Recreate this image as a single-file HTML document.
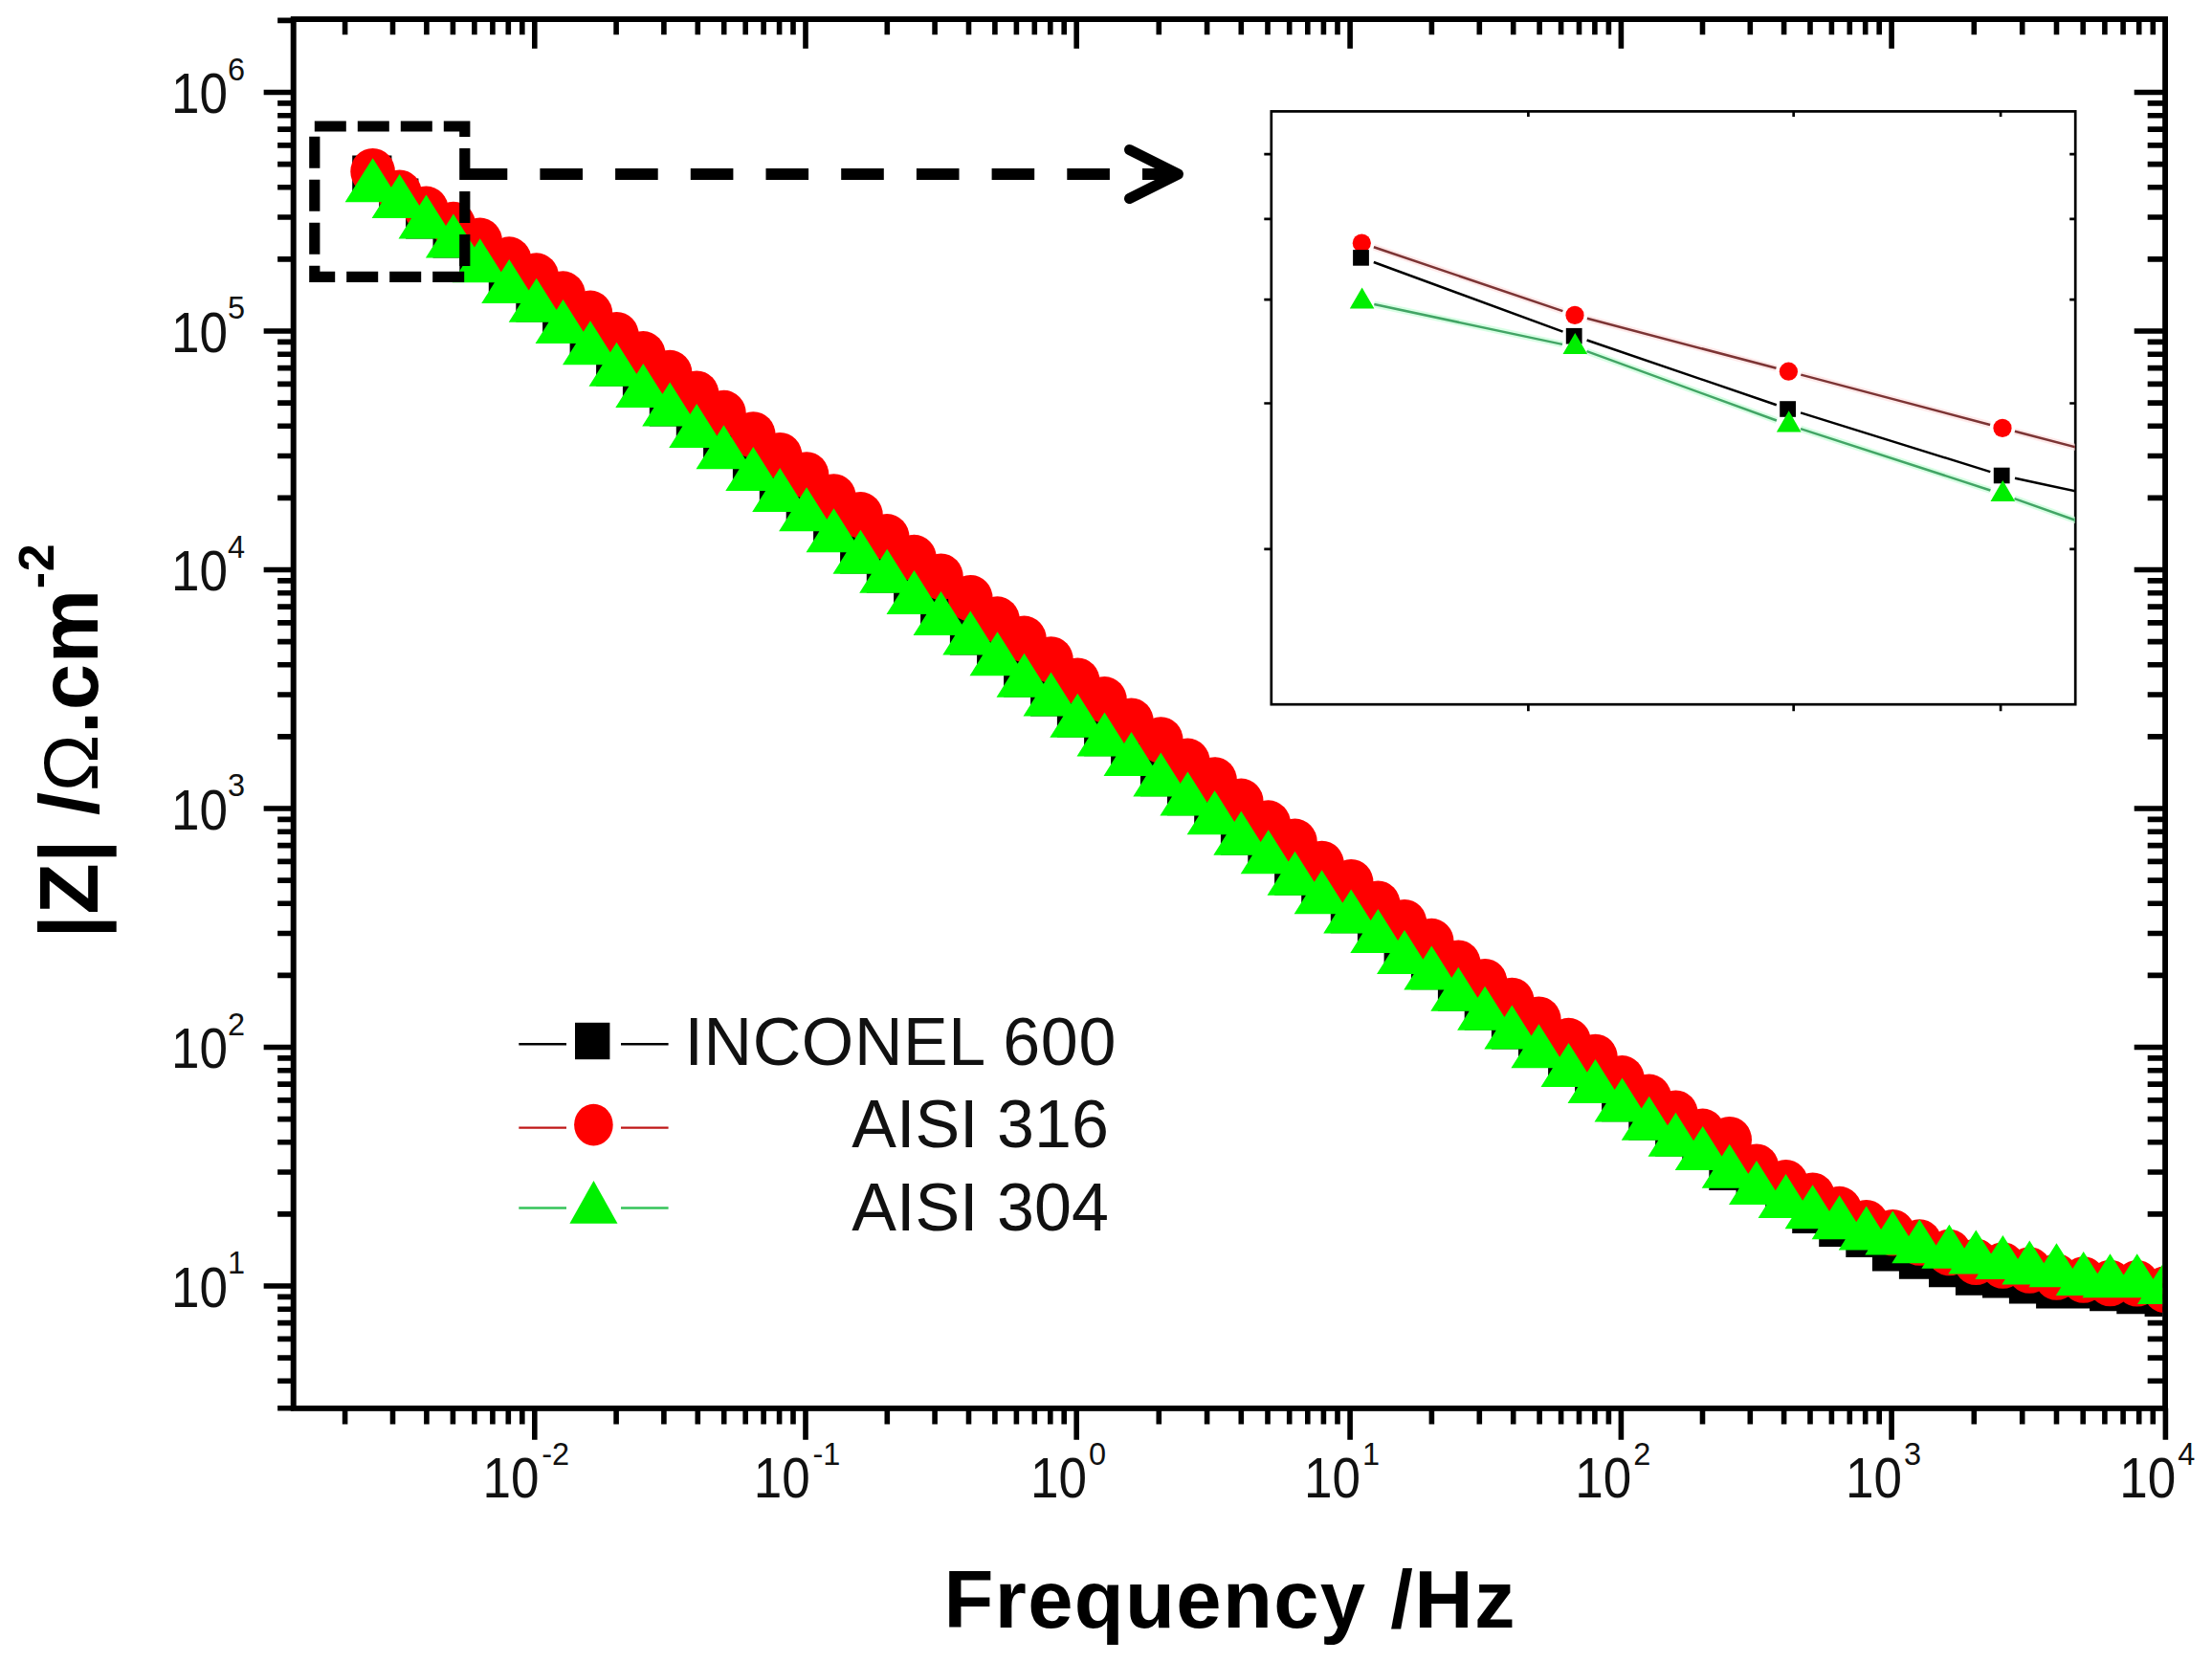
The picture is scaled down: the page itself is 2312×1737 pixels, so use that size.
<!DOCTYPE html><html><head><meta charset="utf-8"><title>Bode plot</title><style>html,body{margin:0;padding:0;background:#fff}svg{display:block}</style></head><body><svg width="2312" height="1737" viewBox="0 0 2312 1737">
<rect width="2312" height="1737" fill="#fff"/>
<defs><clipPath id="cp"><rect x="306.65" y="20.15" width="1953.7499999999998" height="1451.6499999999999"/></clipPath><clipPath id="ci"><rect x="1329" y="116.5" width="840" height="619.5"/></clipPath></defs>
<g stroke="#000" stroke-width="5.6" fill="none" stroke-linecap="butt">
<rect x="306.65" y="20.15" width="1956.5499999999997" height="1451.6499999999999"/>
<path d="M360.6 20.15v16.0M360.6 1471.8v16.7M410.5 20.15v16.0M410.5 1471.8v16.7M445.9 20.15v16.0M445.9 1471.8v16.7M473.4 20.15v16.0M473.4 1471.8v16.7M495.9 20.15v16.0M495.9 1471.8v16.7M514.9 20.15v16.0M514.9 1471.8v16.7M531.3 20.15v16.0M531.3 1471.8v16.7M545.8 20.15v16.0M545.8 1471.8v16.7M558.8 20.15v30.6M558.8 1471.8v33.0M644.1 20.15v16.0M644.1 1471.8v16.7M693.9 20.15v16.0M693.9 1471.8v16.7M729.3 20.15v16.0M729.3 1471.8v16.7M756.7 20.15v16.0M756.7 1471.8v16.7M779.2 20.15v16.0M779.2 1471.8v16.7M798.1 20.15v16.0M798.1 1471.8v16.7M814.6 20.15v16.0M814.6 1471.8v16.7M829.0 20.15v16.0M829.0 1471.8v16.7M842.0 20.15v30.6M842.0 1471.8v33.0M927.3 20.15v16.0M927.3 1471.8v16.7M977.1 20.15v16.0M977.1 1471.8v16.7M1012.5 20.15v16.0M1012.5 1471.8v16.7M1039.9 20.15v16.0M1039.9 1471.8v16.7M1062.4 20.15v16.0M1062.4 1471.8v16.7M1081.3 20.15v16.0M1081.3 1471.8v16.7M1097.8 20.15v16.0M1097.8 1471.8v16.7M1112.2 20.15v16.0M1112.2 1471.8v16.7M1125.2 20.15v30.6M1125.2 1471.8v33.0M1211.3 20.15v16.0M1211.3 1471.8v16.7M1261.6 20.15v16.0M1261.6 1471.8v16.7M1297.3 20.15v16.0M1297.3 1471.8v16.7M1325.0 20.15v16.0M1325.0 1471.8v16.7M1347.7 20.15v16.0M1347.7 1471.8v16.7M1366.8 20.15v16.0M1366.8 1471.8v16.7M1383.4 20.15v16.0M1383.4 1471.8v16.7M1398.0 20.15v16.0M1398.0 1471.8v16.7M1411.1 20.15v30.6M1411.1 1471.8v33.0M1496.4 20.15v16.0M1496.4 1471.8v16.7M1546.3 20.15v16.0M1546.3 1471.8v16.7M1581.7 20.15v16.0M1581.7 1471.8v16.7M1609.1 20.15v16.0M1609.1 1471.8v16.7M1631.6 20.15v16.0M1631.6 1471.8v16.7M1650.5 20.15v16.0M1650.5 1471.8v16.7M1666.9 20.15v16.0M1666.9 1471.8v16.7M1681.4 20.15v16.0M1681.4 1471.8v16.7M1694.4 20.15v30.6M1694.4 1471.8v33.0M1779.5 20.15v16.0M1779.5 1471.8v16.7M1829.3 20.15v16.0M1829.3 1471.8v16.7M1864.6 20.15v16.0M1864.6 1471.8v16.7M1892.0 20.15v16.0M1892.0 1471.8v16.7M1914.4 20.15v16.0M1914.4 1471.8v16.7M1933.3 20.15v16.0M1933.3 1471.8v16.7M1949.7 20.15v16.0M1949.7 1471.8v16.7M1964.2 20.15v16.0M1964.2 1471.8v16.7M1977.1 20.15v30.6M1977.1 1471.8v33.0M2063.3 20.15v16.0M2063.3 1471.8v16.7M2113.7 20.15v16.0M2113.7 1471.8v16.7M2149.5 20.15v16.0M2149.5 1471.8v16.7M2177.2 20.15v16.0M2177.2 1471.8v16.7M2199.9 20.15v16.0M2199.9 1471.8v16.7M2219.1 20.15v16.0M2219.1 1471.8v16.7M2235.7 20.15v16.0M2235.7 1471.8v16.7M2250.3 20.15v16.0M2250.3 1471.8v16.7M2263.4 1471.8v33.0"/>
<path d="M306.65 1471.8h-16.5M306.65 1443.3h-16.5M2263.2 1443.3h-18.5M306.65 1419.1h-16.5M2263.2 1419.1h-18.5M306.65 1399.4h-16.5M2263.2 1399.4h-18.5M306.65 1382.6h-16.5M2263.2 1382.6h-18.5M306.65 1368.2h-16.5M2263.2 1368.2h-18.5M306.65 1355.4h-16.5M2263.2 1355.4h-18.5M306.65 1344.0h-31.0M2263.2 1344.0h-32.5M306.65 1268.9h-16.5M2263.2 1268.9h-18.5M306.65 1225.0h-16.5M2263.2 1225.0h-18.5M306.65 1193.8h-16.5M2263.2 1193.8h-18.5M306.65 1169.6h-16.5M2263.2 1169.6h-18.5M306.65 1149.9h-16.5M2263.2 1149.9h-18.5M306.65 1133.1h-16.5M2263.2 1133.1h-18.5M306.65 1118.7h-16.5M2263.2 1118.7h-18.5M306.65 1105.9h-16.5M2263.2 1105.9h-18.5M306.65 1094.5h-31.0M2263.2 1094.5h-32.5M306.65 1019.4h-16.5M2263.2 1019.4h-18.5M306.65 975.5h-16.5M2263.2 975.5h-18.5M306.65 944.3h-16.5M2263.2 944.3h-18.5M306.65 920.1h-16.5M2263.2 920.1h-18.5M306.65 900.4h-16.5M2263.2 900.4h-18.5M306.65 883.6h-16.5M2263.2 883.6h-18.5M306.65 869.2h-16.5M2263.2 869.2h-18.5M306.65 856.4h-16.5M2263.2 856.4h-18.5M306.65 845.0h-31.0M2263.2 845.0h-32.5M306.65 769.9h-16.5M2263.2 769.9h-18.5M306.65 726.0h-16.5M2263.2 726.0h-18.5M306.65 694.8h-16.5M2263.2 694.8h-18.5M306.65 670.6h-16.5M2263.2 670.6h-18.5M306.65 650.9h-16.5M2263.2 650.9h-18.5M306.65 634.1h-16.5M2263.2 634.1h-18.5M306.65 619.7h-16.5M2263.2 619.7h-18.5M306.65 606.9h-16.5M2263.2 606.9h-18.5M306.65 595.5h-31.0M2263.2 595.5h-32.5M306.65 520.4h-16.5M2263.2 520.4h-18.5M306.65 476.5h-16.5M2263.2 476.5h-18.5M306.65 445.3h-16.5M2263.2 445.3h-18.5M306.65 421.1h-16.5M2263.2 421.1h-18.5M306.65 401.4h-16.5M2263.2 401.4h-18.5M306.65 384.6h-16.5M2263.2 384.6h-18.5M306.65 370.2h-16.5M2263.2 370.2h-18.5M306.65 357.4h-16.5M2263.2 357.4h-18.5M306.65 346.0h-31.0M2263.2 346.0h-32.5M306.65 270.9h-16.5M2263.2 270.9h-18.5M306.65 227.0h-16.5M2263.2 227.0h-18.5M306.65 195.8h-16.5M2263.2 195.8h-18.5M306.65 171.6h-16.5M2263.2 171.6h-18.5M306.65 151.9h-16.5M2263.2 151.9h-18.5M306.65 135.1h-16.5M2263.2 135.1h-18.5M306.65 120.7h-16.5M2263.2 120.7h-18.5M306.65 107.9h-16.5M2263.2 107.9h-18.5M306.65 96.5h-31.0M2263.2 96.5h-32.5M306.65 21.4h-16.5"/>
</g>
<g clip-path="url(#cp)">
<polyline points="389.6,183.1 417.6,207.1 445.5,228.8 473.9,248.8 501.7,274.5 532.2,296.2 560.7,315.9 588.5,338.3 617.0,360.5 644.5,382.9 672.3,405.2 700.2,424.8 728.2,447.2 756.5,469.5 787.3,492.2 815.2,514.2 843.1,534.5 871.5,556.4 899.5,578.9 927.2,598.9 955.5,621.2 983.5,643.3 1014.3,663.8 1042.5,685.5 1070.5,707.9 1098.5,727.8 1126.3,750.0 1154.5,769.7 1182.5,790.2 1213.3,811.7 1241.4,831.6 1269.6,851.4 1297.3,872.9 1325.7,892.4 1353.5,914.9 1381.6,934.4 1412.2,954.7 1440.3,975.2 1468.0,997.2 1496.3,1013.7 1524.3,1036.0 1552.1,1056.0 1580.3,1075.8 1608.4,1095.5 1639.5,1115.2 1667.5,1132.2 1695.5,1151.6 1723.7,1171.0 1751.5,1187.9 1779.7,1202.2 1807.7,1223.5 1836.0,1236.5 1866.6,1250.5 1894.6,1268.5 1922.6,1282.4 1950.7,1293.3 1978.3,1307.8 2006.3,1316.2 2037.4,1324.7 2065.3,1333.1 2093.4,1336.0 2121.3,1341.8 2149.5,1346.8 2177.7,1347.0 2205.5,1349.7 2233.7,1352.6 2263.0,1355.5" fill="none" stroke="#000" stroke-width="2.5"/>
<path d="M368.2 162.5h41.2v41.2h-41.2zM396.2 186.5h41.2v41.2h-41.2zM424.1 208.2h41.2v41.2h-41.2zM452.5 228.2h41.2v41.2h-41.2zM480.3 253.9h41.2v41.2h-41.2zM510.8 275.6h41.2v41.2h-41.2zM539.3 295.3h41.2v41.2h-41.2zM567.1 317.7h41.2v41.2h-41.2zM595.6 339.9h41.2v41.2h-41.2zM623.1 362.3h41.2v41.2h-41.2zM650.9 384.6h41.2v41.2h-41.2zM678.8 404.2h41.2v41.2h-41.2zM706.8 426.6h41.2v41.2h-41.2zM735.1 448.9h41.2v41.2h-41.2zM765.9 471.6h41.2v41.2h-41.2zM793.8 493.6h41.2v41.2h-41.2zM821.7 513.9h41.2v41.2h-41.2zM850.1 535.8h41.2v41.2h-41.2zM878.1 558.3h41.2v41.2h-41.2zM905.8 578.3h41.2v41.2h-41.2zM934.1 600.6h41.2v41.2h-41.2zM962.1 622.7h41.2v41.2h-41.2zM992.9 643.2h41.2v41.2h-41.2zM1021.1 664.9h41.2v41.2h-41.2zM1049.1 687.3h41.2v41.2h-41.2zM1077.1 707.2h41.2v41.2h-41.2zM1104.9 729.4h41.2v41.2h-41.2zM1133.1 749.1h41.2v41.2h-41.2zM1161.1 769.6h41.2v41.2h-41.2zM1191.9 791.1h41.2v41.2h-41.2zM1220.0 811.0h41.2v41.2h-41.2zM1248.2 830.8h41.2v41.2h-41.2zM1275.9 852.3h41.2v41.2h-41.2zM1304.3 871.8h41.2v41.2h-41.2zM1332.1 894.3h41.2v41.2h-41.2zM1360.2 913.8h41.2v41.2h-41.2zM1390.8 934.1h41.2v41.2h-41.2zM1418.9 954.6h41.2v41.2h-41.2zM1446.6 976.6h41.2v41.2h-41.2zM1474.9 993.1h41.2v41.2h-41.2zM1502.9 1015.4h41.2v41.2h-41.2zM1530.7 1035.4h41.2v41.2h-41.2zM1558.9 1055.2h41.2v41.2h-41.2zM1587.0 1074.9h41.2v41.2h-41.2zM1618.1 1094.6h41.2v41.2h-41.2zM1646.1 1111.6h41.2v41.2h-41.2zM1674.1 1131.0h41.2v41.2h-41.2zM1702.3 1150.4h41.2v41.2h-41.2zM1730.1 1167.3h41.2v41.2h-41.2zM1758.3 1181.6h41.2v41.2h-41.2zM1786.3 1202.9h41.2v41.2h-41.2zM1814.6 1215.9h41.2v41.2h-41.2zM1845.2 1229.9h41.2v41.2h-41.2zM1873.2 1247.9h41.2v41.2h-41.2zM1901.2 1261.8h41.2v41.2h-41.2zM1929.3 1272.7h41.2v41.2h-41.2zM1956.9 1287.2h41.2v41.2h-41.2zM1984.9 1295.6h41.2v41.2h-41.2zM2016.0 1304.1h41.2v41.2h-41.2zM2043.9 1312.5h41.2v41.2h-41.2zM2072.0 1315.4h41.2v41.2h-41.2zM2099.9 1321.2h41.2v41.2h-41.2zM2128.1 1326.2h41.2v41.2h-41.2zM2156.3 1326.4h41.2v41.2h-41.2zM2184.1 1329.1h41.2v41.2h-41.2zM2212.3 1332.0h41.2v41.2h-41.2zM2241.6 1334.9h41.2v41.2h-41.2z" fill="#000"/>
<polyline points="389.6,179.2 417.6,201.8 445.5,218.9 473.9,235.0 501.7,251.9 532.2,271.6 560.7,288.6 588.5,307.6 617.0,327.9 644.5,350.3 672.3,370.4 700.2,390.1 728.2,411.8 756.5,432.1 787.3,454.5 815.2,476.2 843.1,496.5 871.5,519.5 899.5,538.4 927.2,561.4 955.5,583.1 983.5,602.8 1014.3,625.2 1042.5,647.6 1070.5,667.9 1098.5,689.5 1126.3,711.8 1154.5,731.4 1182.5,753.8 1213.3,773.5 1241.4,795.9 1269.6,815.5 1297.3,837.9 1325.7,860.6 1353.5,879.9 1381.6,903.0 1412.2,922.2 1440.3,944.7 1468.0,964.3 1496.3,984.1 1524.3,1006.7 1552.1,1026.3 1580.3,1046.0 1608.4,1065.7 1639.5,1088.1 1667.5,1105.0 1695.5,1127.4 1723.7,1146.9 1751.5,1163.8 1779.7,1182.9 1807.7,1191.2 1836.0,1219.7 1866.6,1236.3 1894.6,1249.8 1922.6,1264.1 1950.7,1278.3 1978.3,1288.2 2006.3,1298.5 2037.4,1309.0 2065.3,1318.8 2093.4,1322.5 2121.3,1327.5 2149.5,1334.5 2177.7,1337.5 2205.5,1341.0 2233.7,1341.3 2263.0,1347.8" fill="none" stroke="#f00" stroke-width="2.5"/>
<g fill="#ff0000"><ellipse cx="389.6" cy="179.2" rx="23.3" ry="24.3"/><ellipse cx="417.6" cy="201.8" rx="23.3" ry="24.3"/><ellipse cx="445.5" cy="218.9" rx="23.3" ry="24.3"/><ellipse cx="473.9" cy="235.0" rx="23.3" ry="24.3"/><ellipse cx="501.7" cy="251.9" rx="23.3" ry="24.3"/><ellipse cx="532.2" cy="271.6" rx="23.3" ry="24.3"/><ellipse cx="560.7" cy="288.6" rx="23.3" ry="24.3"/><ellipse cx="588.5" cy="307.6" rx="23.3" ry="24.3"/><ellipse cx="617.0" cy="327.9" rx="23.3" ry="24.3"/><ellipse cx="644.5" cy="350.3" rx="23.3" ry="24.3"/><ellipse cx="672.3" cy="370.4" rx="23.3" ry="24.3"/><ellipse cx="700.2" cy="390.1" rx="23.3" ry="24.3"/><ellipse cx="728.2" cy="411.8" rx="23.3" ry="24.3"/><ellipse cx="756.5" cy="432.1" rx="23.3" ry="24.3"/><ellipse cx="787.3" cy="454.5" rx="23.3" ry="24.3"/><ellipse cx="815.2" cy="476.2" rx="23.3" ry="24.3"/><ellipse cx="843.1" cy="496.5" rx="23.3" ry="24.3"/><ellipse cx="871.5" cy="519.5" rx="23.3" ry="24.3"/><ellipse cx="899.5" cy="538.4" rx="23.3" ry="24.3"/><ellipse cx="927.2" cy="561.4" rx="23.3" ry="24.3"/><ellipse cx="955.5" cy="583.1" rx="23.3" ry="24.3"/><ellipse cx="983.5" cy="602.8" rx="23.3" ry="24.3"/><ellipse cx="1014.3" cy="625.2" rx="23.3" ry="24.3"/><ellipse cx="1042.5" cy="647.6" rx="23.3" ry="24.3"/><ellipse cx="1070.5" cy="667.9" rx="23.3" ry="24.3"/><ellipse cx="1098.5" cy="689.5" rx="23.3" ry="24.3"/><ellipse cx="1126.3" cy="711.8" rx="23.3" ry="24.3"/><ellipse cx="1154.5" cy="731.4" rx="23.3" ry="24.3"/><ellipse cx="1182.5" cy="753.8" rx="23.3" ry="24.3"/><ellipse cx="1213.3" cy="773.5" rx="23.3" ry="24.3"/><ellipse cx="1241.4" cy="795.9" rx="23.3" ry="24.3"/><ellipse cx="1269.6" cy="815.5" rx="23.3" ry="24.3"/><ellipse cx="1297.3" cy="837.9" rx="23.3" ry="24.3"/><ellipse cx="1325.7" cy="860.6" rx="23.3" ry="24.3"/><ellipse cx="1353.5" cy="879.9" rx="23.3" ry="24.3"/><ellipse cx="1381.6" cy="903.0" rx="23.3" ry="24.3"/><ellipse cx="1412.2" cy="922.2" rx="23.3" ry="24.3"/><ellipse cx="1440.3" cy="944.7" rx="23.3" ry="24.3"/><ellipse cx="1468.0" cy="964.3" rx="23.3" ry="24.3"/><ellipse cx="1496.3" cy="984.1" rx="23.3" ry="24.3"/><ellipse cx="1524.3" cy="1006.7" rx="23.3" ry="24.3"/><ellipse cx="1552.1" cy="1026.3" rx="23.3" ry="24.3"/><ellipse cx="1580.3" cy="1046.0" rx="23.3" ry="24.3"/><ellipse cx="1608.4" cy="1065.7" rx="23.3" ry="24.3"/><ellipse cx="1639.5" cy="1088.1" rx="23.3" ry="24.3"/><ellipse cx="1667.5" cy="1105.0" rx="23.3" ry="24.3"/><ellipse cx="1695.5" cy="1127.4" rx="23.3" ry="24.3"/><ellipse cx="1723.7" cy="1146.9" rx="23.3" ry="24.3"/><ellipse cx="1751.5" cy="1163.8" rx="23.3" ry="24.3"/><ellipse cx="1779.7" cy="1182.9" rx="23.3" ry="24.3"/><ellipse cx="1807.7" cy="1191.2" rx="23.3" ry="24.3"/><ellipse cx="1836.0" cy="1219.7" rx="23.3" ry="24.3"/><ellipse cx="1866.6" cy="1236.3" rx="23.3" ry="24.3"/><ellipse cx="1894.6" cy="1249.8" rx="23.3" ry="24.3"/><ellipse cx="1922.6" cy="1264.1" rx="23.3" ry="24.3"/><ellipse cx="1950.7" cy="1278.3" rx="23.3" ry="24.3"/><ellipse cx="1978.3" cy="1288.2" rx="23.3" ry="24.3"/><ellipse cx="2006.3" cy="1298.5" rx="23.3" ry="24.3"/><ellipse cx="2037.4" cy="1309.0" rx="23.3" ry="24.3"/><ellipse cx="2065.3" cy="1318.8" rx="23.3" ry="24.3"/><ellipse cx="2093.4" cy="1322.5" rx="23.3" ry="24.3"/><ellipse cx="2121.3" cy="1327.5" rx="23.3" ry="24.3"/><ellipse cx="2149.5" cy="1334.5" rx="23.3" ry="24.3"/><ellipse cx="2177.7" cy="1337.5" rx="23.3" ry="24.3"/><ellipse cx="2205.5" cy="1341.0" rx="23.3" ry="24.3"/><ellipse cx="2233.7" cy="1341.3" rx="23.3" ry="24.3"/><ellipse cx="2263.0" cy="1347.8" rx="23.3" ry="24.3"/></g>
<polyline points="389.6,196.0 417.6,212.6 445.5,234.3 473.9,254.3 501.7,280.0 532.2,301.7 560.7,321.4 588.5,343.8 617.0,366.0 644.5,388.4 672.3,410.7 700.2,430.3 728.2,452.7 756.5,475.0 787.3,497.7 815.2,519.7 843.1,540.0 871.5,561.9 899.5,584.4 927.2,604.4 955.5,626.7 983.5,648.8 1014.3,669.3 1042.5,691.0 1070.5,713.4 1098.5,733.3 1126.3,755.5 1154.5,775.2 1182.5,795.7 1213.3,817.2 1241.4,837.1 1269.6,856.9 1297.3,878.4 1325.7,897.9 1353.5,920.4 1381.6,939.9 1412.2,960.2 1440.3,980.7 1468.0,1002.7 1496.3,1019.2 1524.3,1041.5 1552.1,1061.5 1580.3,1081.3 1608.4,1101.0 1639.5,1120.7 1667.5,1137.7 1695.5,1157.1 1723.7,1176.5 1751.5,1193.4 1779.7,1207.7 1807.7,1226.5 1836.0,1243.7 1866.6,1257.7 1894.6,1268.9 1922.6,1279.9 1950.7,1291.3 1978.3,1296.3 2006.3,1305.0 2037.4,1310.5 2065.3,1316.3 2093.4,1321.7 2121.3,1327.1 2149.5,1329.9 2177.7,1338.7 2205.5,1341.0 2233.7,1341.0 2263.0,1347.7" fill="none" stroke="#0f0" stroke-width="2.5"/>
<path d="M389.6 165.3l29.0 46.0h-58.0zM417.6 181.9l29.0 46.0h-58.0zM445.5 203.6l29.0 46.0h-58.0zM473.9 223.6l29.0 46.0h-58.0zM501.7 249.3l29.0 46.0h-58.0zM532.2 271.0l29.0 46.0h-58.0zM560.7 290.7l29.0 46.0h-58.0zM588.5 313.1l29.0 46.0h-58.0zM617.0 335.3l29.0 46.0h-58.0zM644.5 357.7l29.0 46.0h-58.0zM672.3 380.0l29.0 46.0h-58.0zM700.2 399.6l29.0 46.0h-58.0zM728.2 422.0l29.0 46.0h-58.0zM756.5 444.3l29.0 46.0h-58.0zM787.3 467.0l29.0 46.0h-58.0zM815.2 489.0l29.0 46.0h-58.0zM843.1 509.3l29.0 46.0h-58.0zM871.5 531.2l29.0 46.0h-58.0zM899.5 553.7l29.0 46.0h-58.0zM927.2 573.7l29.0 46.0h-58.0zM955.5 596.0l29.0 46.0h-58.0zM983.5 618.1l29.0 46.0h-58.0zM1014.3 638.6l29.0 46.0h-58.0zM1042.5 660.3l29.0 46.0h-58.0zM1070.5 682.7l29.0 46.0h-58.0zM1098.5 702.6l29.0 46.0h-58.0zM1126.3 724.8l29.0 46.0h-58.0zM1154.5 744.5l29.0 46.0h-58.0zM1182.5 765.0l29.0 46.0h-58.0zM1213.3 786.5l29.0 46.0h-58.0zM1241.4 806.4l29.0 46.0h-58.0zM1269.6 826.2l29.0 46.0h-58.0zM1297.3 847.7l29.0 46.0h-58.0zM1325.7 867.2l29.0 46.0h-58.0zM1353.5 889.7l29.0 46.0h-58.0zM1381.6 909.2l29.0 46.0h-58.0zM1412.2 929.5l29.0 46.0h-58.0zM1440.3 950.0l29.0 46.0h-58.0zM1468.0 972.0l29.0 46.0h-58.0zM1496.3 988.5l29.0 46.0h-58.0zM1524.3 1010.8l29.0 46.0h-58.0zM1552.1 1030.8l29.0 46.0h-58.0zM1580.3 1050.6l29.0 46.0h-58.0zM1608.4 1070.3l29.0 46.0h-58.0zM1639.5 1090.0l29.0 46.0h-58.0zM1667.5 1107.0l29.0 46.0h-58.0zM1695.5 1126.4l29.0 46.0h-58.0zM1723.7 1145.8l29.0 46.0h-58.0zM1751.5 1162.7l29.0 46.0h-58.0zM1779.7 1177.0l29.0 46.0h-58.0zM1807.7 1195.8l29.0 46.0h-58.0zM1836.0 1213.0l29.0 46.0h-58.0zM1866.6 1227.0l29.0 46.0h-58.0zM1894.6 1238.2l29.0 46.0h-58.0zM1922.6 1249.2l29.0 46.0h-58.0zM1950.7 1260.6l29.0 46.0h-58.0zM1978.3 1265.6l29.0 46.0h-58.0zM2006.3 1274.3l29.0 46.0h-58.0zM2037.4 1279.8l29.0 46.0h-58.0zM2065.3 1285.6l29.0 46.0h-58.0zM2093.4 1291.0l29.0 46.0h-58.0zM2121.3 1296.4l29.0 46.0h-58.0zM2149.5 1299.2l29.0 46.0h-58.0zM2177.7 1308.0l29.0 46.0h-58.0zM2205.5 1310.3l29.0 46.0h-58.0zM2233.7 1310.3l29.0 46.0h-58.0zM2263.0 1317.0l29.0 46.0h-58.0z" fill="#00ff00"/>
</g>
<rect x="306.65" y="20.15" width="1956.5499999999997" height="1451.6499999999999" fill="none" stroke="#000" stroke-width="5.6"/>
<g stroke="#000" fill="none" stroke-width="11.2">
<rect x="328.8" y="132" width="157" height="157.4" stroke-dasharray="33 12"/>
<path d="M485.7 182H1232" stroke-width="12" stroke-dasharray="44.6 34.1"/>
<path d="M1180.5 156.5L1231.5 182L1180.5 207.5" stroke-linejoin="round" stroke-linecap="round" stroke-width="11"/>
</g>
<rect x="1328.8" y="116.4" width="840.3999999999999" height="619.8000000000001" fill="#fff" stroke="#000" stroke-width="2.7"/>
<path d="M1328.8 161.2h-7.5M2169.2 161.2h-6M1328.8 228.9h-7.5M2169.2 228.9h-6M1328.8 313.2h-7.5M2169.2 313.2h-6M1328.8 421.5h-7.5M2169.2 421.5h-6M1328.8 573.8h-7.5M2169.2 573.8h-6M1597.4 116.4v5.5M1597.4 736.2v7M1874.7 116.4v5.5M1874.7 736.2v7M2091.1 116.4v5.5M2091.1 736.2v7" stroke="#000" stroke-width="2.7" fill="none"/>
<g clip-path="url(#ci)">
<path d="M1435.9 258.3L1633.4 325.1M1658.9 332.8L1856.5 384.8M1882.3 391.6L2080.1 444.0M2105.9 450.8L2303.7 502.6" stroke="#ffd9d9" stroke-width="7" fill="none" opacity="0.55"/>
<path d="M1435.9 258.3L1633.4 325.1M1658.9 332.8L1856.5 384.8M1882.3 391.6L2080.1 444.0M2105.9 450.8L2303.7 502.6" stroke="#7c3434" stroke-width="2.5" fill="none"/>
<circle cx="1423.3" cy="254.0" r="9.6" fill="#f00"/><circle cx="1646.0" cy="329.4" r="9.6" fill="#f00"/><circle cx="1869.4" cy="388.2" r="9.6" fill="#f00"/><circle cx="2093.0" cy="447.4" r="9.6" fill="#f00"/><circle cx="2316.6" cy="506.0" r="9.6" fill="#f00"/>
<path d="M1435.8 274.0L1633.5 346.6M1658.6 355.5L1856.8 423.2M1882.1 431.4L2080.3 493.1M2106.0 499.8L2303.6 542.2" stroke="#000" stroke-width="2.5" fill="none"/>
<rect x="1414.1" y="261.1" width="16.8" height="16.6" fill="#000"/><rect x="1636.8" y="342.9" width="16.8" height="16.6" fill="#000"/><rect x="1860.2" y="419.2" width="16.8" height="16.6" fill="#000"/><rect x="2083.8" y="488.7" width="16.8" height="16.6" fill="#000"/><rect x="2307.4" y="536.7" width="16.8" height="16.6" fill="#000"/>
<path d="M1436.3 318.0L1633.0 359.9M1658.5 367.2L1856.9 439.5M1882.0 448.1L2080.4 512.5M2105.5 521.1L2304.1 591.5" stroke="#b9ffcf" stroke-width="7" fill="none" opacity="0.55"/>
<path d="M1436.3 318.0L1633.0 359.9M1658.5 367.2L1856.9 439.5M1882.0 448.1L2080.4 512.5M2105.5 521.1L2304.1 591.5" stroke="#42a565" stroke-width="2.5" fill="none"/>
<path d="M1423.6 300.5l12.8 22.1h-25.6z" fill="#00ee00"/><path d="M1646.3 348.0l12.8 22.1h-25.6z" fill="#00ee00"/><path d="M1869.7 429.3l12.8 22.1h-25.6z" fill="#00ee00"/><path d="M2093.3 501.9l12.8 22.1h-25.6z" fill="#00ee00"/><path d="M2316.9 581.3l12.8 22.1h-25.6z" fill="#00ee00"/>
</g>
<g fill="none" stroke-width="2.4">
<path d="M542.3 1091.2H592M649 1091.2H698.6" stroke="#000"/>
<path d="M542.3 1178.6H592M649 1178.6H698.6" stroke="#c01818"/>
<path d="M542.3 1262.5H592M649 1262.5H698.6" stroke="#35c35a"/>
</g>
<rect x="601" y="1068.8" width="36.4" height="38.4" fill="#000"/>
<ellipse cx="620.4" cy="1175.6" rx="20.3" ry="21.8" fill="#f00"/>
<path d="M620.5 1234L645.5 1278.8H595.4z" fill="#00f000"/>
<g font-family="'Liberation Sans', Arial, sans-serif" fill="#111">
<text transform="translate(179,1365.6) scale(0.89,1)" font-size="59.6">10</text>
<text x="238" y="1331.4" font-size="32.5">1</text>
<text transform="translate(179,1116.1) scale(0.89,1)" font-size="59.6">10</text>
<text x="238" y="1081.9" font-size="32.5">2</text>
<text transform="translate(179,866.6) scale(0.89,1)" font-size="59.6">10</text>
<text x="238" y="832.4" font-size="32.5">3</text>
<text transform="translate(179,617.1) scale(0.89,1)" font-size="59.6">10</text>
<text x="238" y="582.9" font-size="32.5">4</text>
<text transform="translate(179,367.6) scale(0.89,1)" font-size="59.6">10</text>
<text x="238" y="333.4" font-size="32.5">5</text>
<text transform="translate(179,118.1) scale(0.89,1)" font-size="59.6">10</text>
<text x="238" y="83.9" font-size="32.5">6</text>
<text transform="translate(504.5,1564.8) scale(0.89,1)" font-size="59.6">10</text>
<text x="566.3" y="1531" font-size="32.5">-2</text>
<text transform="translate(787.7,1564.8) scale(0.89,1)" font-size="59.6">10</text>
<text x="849.5" y="1531" font-size="32.5">-1</text>
<text transform="translate(1077.1,1564.8) scale(0.89,1)" font-size="59.6">10</text>
<text x="1138.1" y="1531" font-size="32.5">0</text>
<text transform="translate(1363.0,1564.8) scale(0.89,1)" font-size="59.6">10</text>
<text x="1424.0" y="1531" font-size="32.5">1</text>
<text transform="translate(1646.3,1564.8) scale(0.89,1)" font-size="59.6">10</text>
<text x="1707.3" y="1531" font-size="32.5">2</text>
<text transform="translate(1929.0,1564.8) scale(0.89,1)" font-size="59.6">10</text>
<text x="1990.0" y="1531" font-size="32.5">3</text>
<text transform="translate(2215.3,1564.8) scale(0.89,1)" font-size="59.6">10</text>
<text x="2276.3" y="1531" font-size="32.5">4</text>
<text x="986.5" y="1701" font-size="85" font-weight="bold" fill="#000" textLength="597" lengthAdjust="spacing">Frequency /Hz</text>
<g transform="translate(101.5,980.5) rotate(-90)" font-weight="bold" fill="#000"><text x="0" y="0" font-size="87" letter-spacing="0.6">|Z| /<tspan font-weight="normal" font-size="80">Ω</tspan>.cm<tspan dy="-46" font-size="52">-2</tspan></text></g>
<text x="715.5" y="1113" font-size="70" letter-spacing="0.6">INCONEL 600</text>
<text x="890.3" y="1199.3" font-size="70">AISI 316</text>
<text x="890.3" y="1286.2" font-size="70">AISI 304</text>
</g>
</svg></body></html>
